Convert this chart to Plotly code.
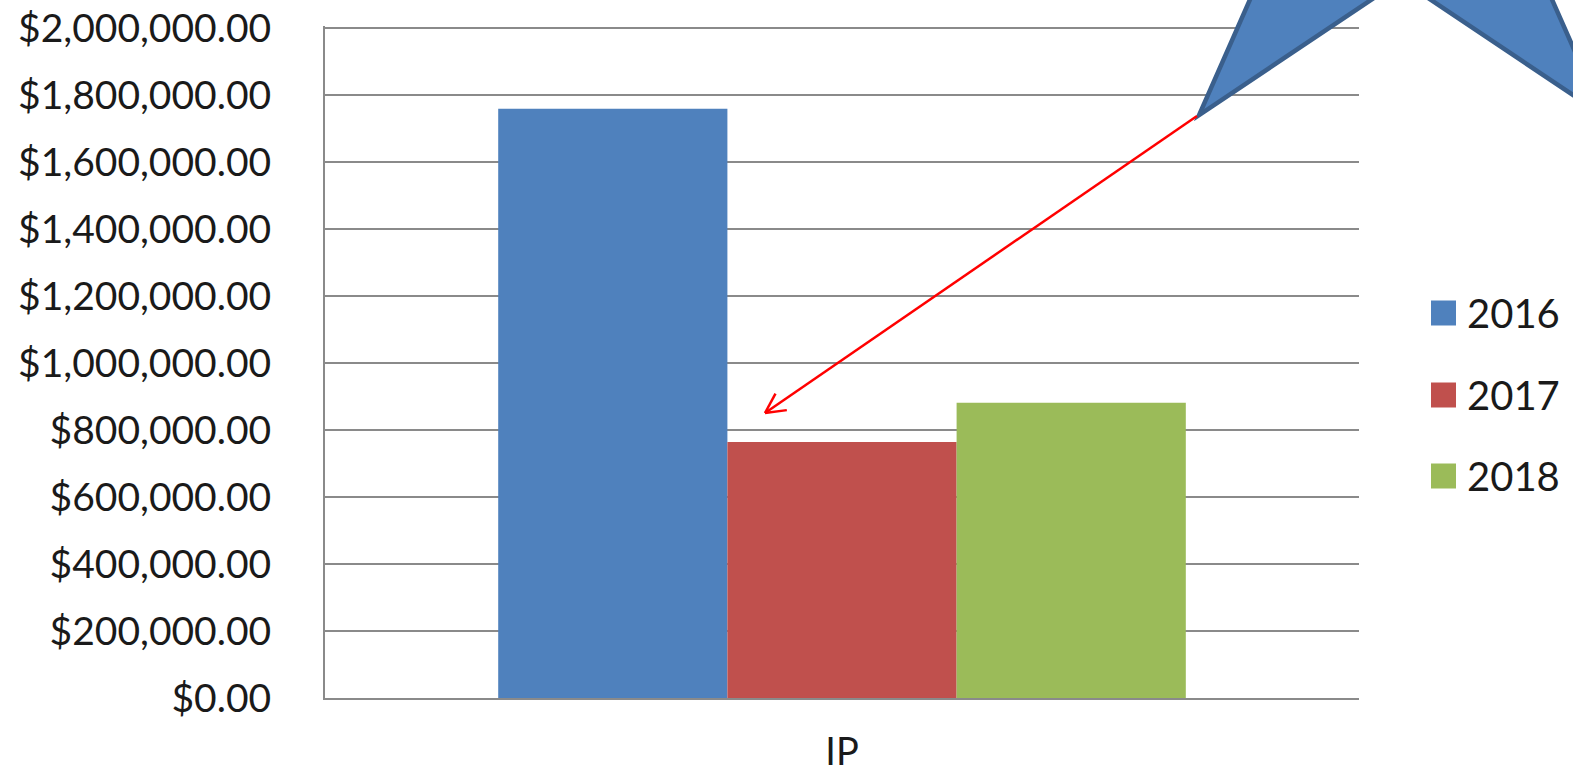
import math
import plotly.graph_objects as go

# ---------------- data ----------------
categories = ["IP"]
years = ["2016", "2017", "2018"]
values_2016 = [1759000]
values_2017 = [764500]
values_2018 = [881000]
series_colors = ["#4F81BD", "#C0504D", "#9BBB59"]
y_tick_values = [0, 200000, 400000, 600000, 800000, 1000000,
                 1200000, 1400000, 1600000, 1800000, 2000000]

# ---------------- layout constants ----------------
W, H = 1573, 775
ML, MR, MT, MB = 325, 214, 26, 77
PW, PH = W - ML - MR, H - MT - MB
FONT = "Lato, 'Open Sans', sans-serif"
TEXT_COLOR = "#1a1a1a"
GRID = "#8a8a8a"
Y_MAX = 2000000 * PH / (PH - 2)   # keep the top gridline 2px inside the plot


def px(x):
    return (x - ML) / PW


def py(y):
    return 1 - (y - MT) / PH


fig = go.Figure()
for name, vals, col in zip(years, [values_2016, values_2017, values_2018], series_colors):
    fig.add_trace(go.Bar(x=categories, y=vals, name=name,
                         marker=dict(color=col, line=dict(width=0)),
                         showlegend=False))

shapes = []
annotations = []

# star (decoration, partly out of the picture)
cx, cy, Rx, Ry, k = 1401, -119.6, 343.5, 290, 0.343
pts = []
for i in range(10):
    a = math.radians(90 + 36 * i)
    rx, ry = (Rx, Ry) if i % 2 == 0 else (Rx * k, Ry * k)
    pts.append((cx + rx * math.cos(a), cy - ry * math.sin(a)))
path = "M " + " L ".join(f"{px(x):.5f},{py(y):.5f}" for x, y in pts) + " Z"
shapes.append(dict(type="path", xref="paper", yref="paper", path=path,
                   fillcolor="#4F81BD", line=dict(color="#3A5F8C", width=4.5),
                   layer="above"))

# red arrow
tail = (1197, 116)
tip = (765, 413)
shapes.append(dict(type="line", xref="paper", yref="paper",
                   x0=px(tail[0]), y0=py(tail[1]), x1=px(tip[0]), y1=py(tip[1]),
                   line=dict(color="#FF0000", width=2.5)))
dx, dy = tail[0] - tip[0], tail[1] - tip[1]
L = math.hypot(dx, dy)
ux, uy = dx / L, dy / L
for sgn in (1, -1):
    ang = math.radians(27) * sgn
    vx = ux * math.cos(ang) - uy * math.sin(ang)
    vy = ux * math.sin(ang) + uy * math.cos(ang)
    shapes.append(dict(type="line", xref="paper", yref="paper",
                       x0=px(tip[0]), y0=py(tip[1]),
                       x1=px(tip[0] + 22 * vx), y1=py(tip[1] + 22 * vy),
                       line=dict(color="#FF0000", width=2.5)))

# manual legend
leg_y = [313, 395, 476]
for name, col, yc in zip(years, series_colors, leg_y):
    shapes.append(dict(type="rect", xref="paper", yref="paper",
                       x0=px(1431), x1=px(1456), y0=py(yc - 12.5), y1=py(yc + 12.5),
                       fillcolor=col, line=dict(width=0)))
    annotations.append(dict(xref="paper", yref="paper", x=px(1465), y=py(yc),
                            text=name, showarrow=False, xanchor="left", yanchor="middle",
                            font=dict(family=FONT, size=40, color=TEXT_COLOR)))

fig.update_layout(
    width=W, height=H,
    margin=dict(l=ML, r=MR, t=MT, b=MB, pad=0, autoexpand=False),
    paper_bgcolor="white", plot_bgcolor="white",
    barmode="group", bargap=0.335, bargroupgap=0,
    shapes=shapes, annotations=annotations,
    showlegend=False,
    font=dict(family=FONT, size=39, color=TEXT_COLOR),
)
fig.update_yaxes(range=[0, Y_MAX], tickvals=y_tick_values, tickformat="$,.2f",
                 showgrid=True, gridcolor=GRID, gridwidth=2,
                 showline=True, linecolor=GRID, linewidth=2,
                 zeroline=False, ticks="", ticklabelstandoff=44, automargin=False,
                 tickfont=dict(family=FONT, size=39, color=TEXT_COLOR))
fig.update_xaxes(showgrid=False, showline=True, linecolor=GRID, linewidth=2,
                 ticks="", ticklabelstandoff=19, automargin=False,
                 tickfont=dict(family=FONT, size=38, color=TEXT_COLOR))

fig.write_html("out.html")
